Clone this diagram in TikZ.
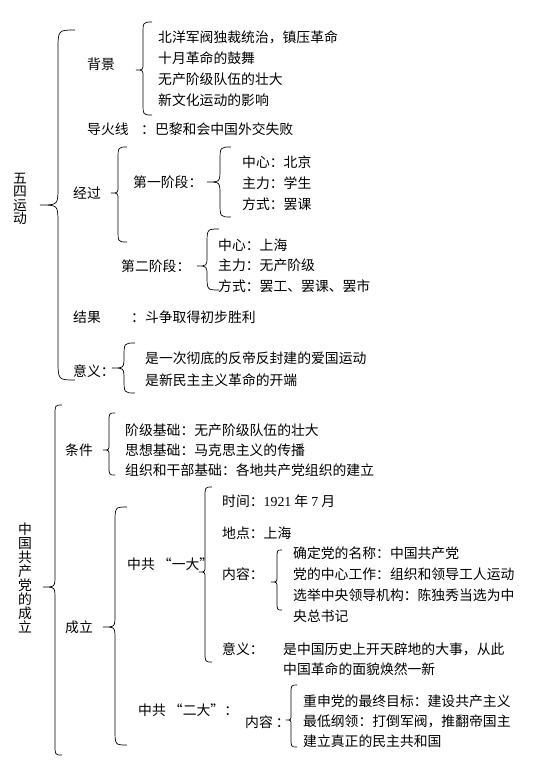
\documentclass[tikz,border=0pt]{standalone}
\usepackage{fontspec}
\setmainfont{Noto Sans CJK SC}
\newfontfamily\numfont{Liberation Serif}
\newcommand{\wbrace}[6]{% ends x, line x, tip x, top y, bottom y, tip y
  \draw[bracket] (#1,#4) .. controls (#2,#4) .. (#2,{#4+#1-#2+4})
    -- (#2,{#6-#2+#3}) .. controls (#2,#6) .. (#3,#6)
    .. controls (#2,#6) .. (#2,{#6+#2-#3})
    -- (#2,{#5-#1+#2-4}) .. controls (#2,#5) .. (#1,#5);}
\tikzset{
    lbl/.style={anchor=west, inner sep=0pt, font=\fontsize{11.8}{14}\selectfont},
    items/.style={lbl, align=left, font=\fontsize{11.8}{#1}\selectfont},
    items/.default=17.9pt,
    vtext/.style={inner sep=0pt, align=center, font=\fontsize{11.8}{#1}\selectfont},
    bracket/.style={line width=0.6pt},
}
\begin{document}
\begin{tikzpicture}[x=0.03cm, y=-0.03cm]
    \useasboundingbox (0,0) rectangle (534,772);
    \node[vtext=11.5pt] (mayfourth) at (20,199) {五\\四\\运\\动};
    \wbrace{75}{58}{40}{30}{380}{205}
    \node[lbl] (bg) at (87,64) {背景};
    \wbrace{152}{143}{136}{22}{115}{70}
    \node[items] (bgitems) at (158,68.5) {北洋军阀独裁统治，镇压革命\\十月革命的鼓舞\\无产阶级队伍的壮大\\新文化运动的影响};
    \node[lbl] (fuse) at (87,129) {导火线};
    \node[lbl] (fusetext) at (141,129) {：巴黎和会中国外交失败};
    \node[lbl] (course) at (73,193) {经过};
    \wbrace{127}{118}{111}{147}{242}{193}
    \node[lbl] (stage1) at (133,182) {第一阶段：};
    \wbrace{231}{220}{207}{147}{217}{182}
    \node[items] (stage1items) at (242,183) {中心：北京\\主力：学生\\方式：罢课};
    \node[lbl] (stage2) at (121,266) {第二阶段：};
    \wbrace{219}{207}{197}{229}{290}{266}
    \node[items=17.5pt] (stage2items) at (218,265.5) {中心：上海\\主力：无产阶级\\方式：罢工、罢课、罢市};
    \node[lbl] (result) at (73,317) {结果};
    \node[lbl] (resulttext) at (131,317) {：斗争取得初步胜利};
    \node[lbl] (sig1) at (73,371) {意义：};
    \wbrace{135}{124}{112}{343}{393}{368}
    \node[items=18.8pt] (sig1items) at (145,369) {是一次彻底的反帝反封建的爱国运动\\是新民主主义革命的开端};

    \node[vtext=12pt] (founding) at (25,578) {中\\国\\共\\产\\党\\的\\成\\立};
    \wbrace{62}{55}{43}{405}{755}{587}
    \node[lbl] (cond) at (65,450) {条件};
    \wbrace{115}{109}{103}{413}{475}{450}
    \node[items=17.1pt] (conditems) at (125,450) {阶级基础：无产阶级队伍的壮大\\思想基础：马克思主义的传播\\组织和干部基础：各地共产党组织的建立};
    \node[lbl] (est) at (65,627) {成立};
    \wbrace{127}{115}{103}{507}{745}{627}
    \node[lbl] (first) at (127,564) {中共 “一大”};
    \wbrace{212}{205}{199}{487}{662}{572}
    \node[lbl] (time) at (222,501) {时间：{\numfont 1921} 年 {\numfont 7} 月};
    \node[lbl] (place) at (222,533) {地点：上海};
    \node[lbl] (content1) at (222,574) {内容：};
    \wbrace{282}{277}{271}{550}{610}{582}
    \node[items] (content1items) at (293,584.5) {确定党的名称：中国共产党\\党的中心工作：组织和领导工人运动\\选举中央领导机构：陈独秀当选为中\\央总书记};
    \node[lbl] (sig2) at (222,649) {意义：};
    \node[items=17.1pt] (sig2items) at (283,659) {是中国历史上开天辟地的大事，从此\\中国革命的面貌焕然一新};
    \node[lbl] (second) at (138,710) {中共 “二大”：};
    \node[lbl] (content2) at (245,722) {内容 ：};
    \wbrace{297}{291}{286}{685}{747}{720}
    \node[items=17.1pt] (content2items) at (303,721) {重申党的最终目标：建设共产主义\\最低纲领：打倒军阀，推翻帝国主\\建立真正的民主共和国};
\end{tikzpicture}
\end{document}
